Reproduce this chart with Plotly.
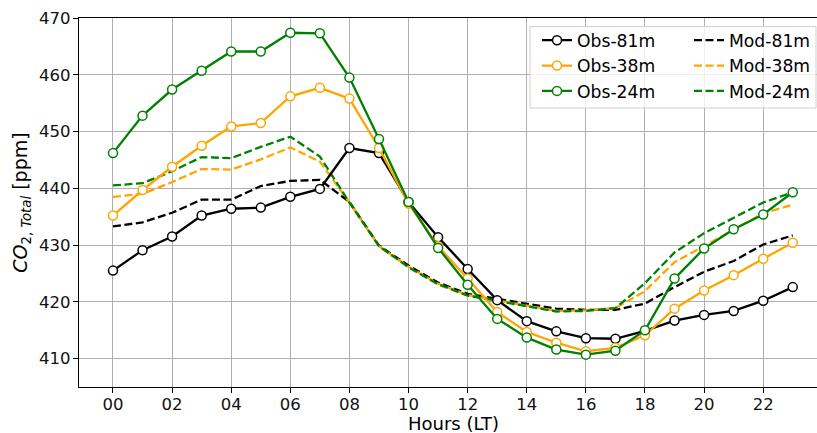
import plotly.graph_objects as go

hours = list(range(24))
tick_vals = list(range(0, 24, 2))
tick_text = ["00", "02", "04", "06", "08", "10", "12", "14", "16", "18", "20", "22"]
y_ticks = [410, 420, 430, 440, 450, 460, 470]

obs_81 = [425.5, 429.1, 431.5, 435.2, 436.4, 436.6, 438.5, 439.9, 447.1, 446.2,
          437.6, 431.4, 425.8, 420.3, 416.6, 414.8, 413.6, 413.5, 414.9, 416.7,
          417.7, 418.4, 420.2, 422.6]
obs_38 = [435.2, 439.7, 443.8, 447.5, 450.9, 451.5, 456.2, 457.7, 455.8, 447.1,
          437.3, 429.8, 424.1, 418.2, 414.7, 412.8, 411.3, 411.9, 414.1, 418.8,
          422.0, 424.7, 427.6, 430.4]
obs_24 = [446.2, 452.8, 457.4, 460.7, 464.1, 464.1, 467.4, 467.3, 459.5, 448.7,
          437.6, 429.5, 423.0, 417.0, 413.7, 411.6, 410.7, 411.4, 415.0, 424.1,
          429.4, 432.8, 435.4, 439.3]
mod_81 = [433.3, 434.0, 435.7, 438.0, 438.0, 440.4, 441.3, 441.5, 437.6, 429.9,
          426.4, 423.4, 421.4, 420.5, 419.6, 418.8, 418.6, 418.6, 419.7, 422.6,
          425.3, 427.2, 430.1, 431.7]
mod_38 = [438.5, 439.0, 441.1, 443.4, 443.3, 445.1, 447.2, 444.7, 437.5, 429.8,
          426.2, 423.2, 421.2, 420.3, 419.3, 418.4, 418.5, 418.9, 421.9, 427.0,
          429.8, 432.7, 435.6, 437.1]
mod_24 = [440.5, 440.9, 443.0, 445.5, 445.3, 447.3, 449.1, 445.6, 437.5, 429.8,
          426.1, 423.1, 421.1, 420.2, 419.2, 418.3, 418.4, 418.9, 423.3, 428.7,
          432.1, 434.8, 437.5, 439.3]

series = [
    ("Obs-81m", obs_81, "black", "solid", "legend"),
    ("Obs-38m", obs_38, "#FFA500", "solid", "legend"),
    ("Obs-24m", obs_24, "#008000", "solid", "legend"),
    ("Mod-81m", mod_81, "black", "8px,3.5px", "legend2"),
    ("Mod-38m", mod_38, "#FFA500", "8px,3.5px", "legend2"),
    ("Mod-24m", mod_24, "#008000", "8px,3.5px", "legend2"),
]
names = [s[0] for s in series]

FONT = "DejaVu Sans"
fig = go.Figure()
# draw models first, then observations on top
for name, vals, col, dash, leg in series[3:] + series[:3]:
    if dash == "solid":
        fig.add_trace(go.Scatter(
            x=hours, y=vals, name=name, mode="lines+markers",
            line=dict(color=col, width=2.3),
            marker=dict(symbol="circle", size=9, color="white",
                        line=dict(color=col, width=1.5)),
            legend=leg, legendrank=names.index(name)))
    else:
        fig.add_trace(go.Scatter(
            x=hours, y=vals, name=name, mode="lines",
            line=dict(color=col, width=2.3, dash=dash),
            legend=leg, legendrank=names.index(name)))

axis_common = dict(
    showgrid=True, gridcolor="#b0b0b0", gridwidth=1,
    showline=True, linecolor="black", linewidth=1.2,
    ticks="outside", ticklen=5, tickwidth=1.2, tickcolor="black",
    tickfont=dict(family=FONT, size=16.5, color="#111"),
    zeroline=False, automargin=False,
)

leg_common = dict(
    xanchor="left", yanchor="top", bgcolor="rgba(0,0,0,0)", borderwidth=0,
    traceorder="normal", font=dict(family=FONT, size=17.2))

fig.update_layout(
    width=817, height=433,
    margin=dict(l=79, r=0, t=18, b=46, autoexpand=False),
    paper_bgcolor="white", plot_bgcolor="white",
    font=dict(family=FONT, color="black"),
    xaxis=dict(
        range=[-1.15, 23.82], tickmode="array", tickvals=tick_vals, ticktext=tick_text,
        mirror=True, ticklabelstandoff=-3,
        **axis_common),
    yaxis=dict(
        range=[405, 470], tickmode="array", tickvals=y_ticks, ticklabelstandoff=-1,
        title=dict(text="<i>CO</i><sub>2, <i>Total</i></sub> [ppm]",
                   font=dict(family=FONT, size=19), standoff=6),
        **axis_common),
    legend=dict(x=(537 - 79) / 738, y=1 - (22.5 - 18) / 369, **leg_common),
    legend2=dict(x=(689 - 79) / 738, y=1 - (22.5 - 18) / 369, **leg_common),
    annotations=[dict(
        text="Hours (LT)", xref="paper", yref="paper", x=(453.5 - 79) / 738, y=0,
        xanchor="center", yanchor="bottom", yshift=-(433 - 387), showarrow=False,
        borderpad=0, height=18, valign="middle",
        font=dict(family=FONT, size=18, color="black"))],
    shapes=[dict(
        type="rect", xref="paper", yref="paper", layer="above",
        x0=(530 - 79) / 738, x1=(816 - 79) / 738,
        y0=1 - (108 - 18) / 369, y1=1 - (26.5 - 18) / 369,
        line=dict(color="#d0d0d0", width=1), fillcolor="rgba(255,255,255,0.8)")],
)

fig.write_html("out.html")
